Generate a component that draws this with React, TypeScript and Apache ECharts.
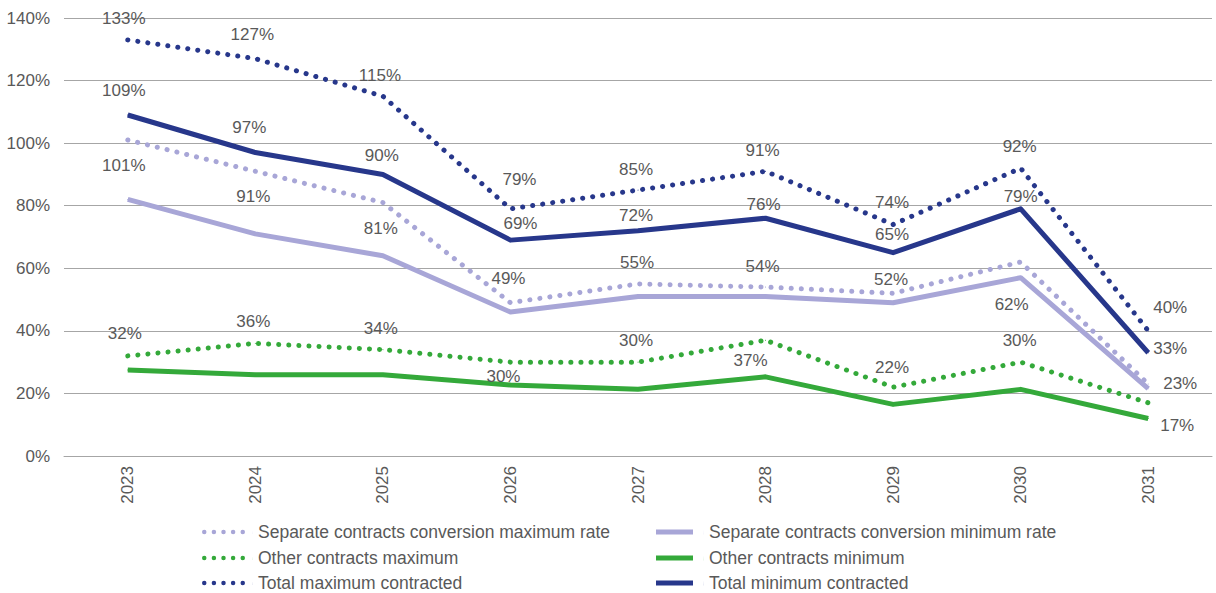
import React, { useEffect, useRef } from 'react';
import * as echarts from 'echarts';

const years = ['2023', '2024', '2025', '2026', '2027', '2028', '2029', '2030', '2031'];
const sepMax = [101, 91, 81, 49, 55, 54, 52, 62, 23];
const sepMin = [82, 71, 64, 46, 51, 51, 49, 57, 21.5];
const otherMax = [32, 36, 34, 30, 30, 37, 22, 30, 17];
const otherMin = [27.5, 26, 26, 22.7, 21.3, 25.3, 16.5, 21.3, 12];
const totalMax = [133, 127, 115, 79, 85, 91, 74, 92, 40];
const totalMin = [109, 97, 90, 69, 72, 76, 65, 79, 33];

const names = {
  sepMax: 'Separate contracts conversion maximum rate',
  sepMin: 'Separate contracts conversion minimum rate',
  otherMax: 'Other contracts maximum',
  otherMin: 'Other contracts minimum',
  totalMax: 'Total maximum contracted',
  totalMin: 'Total minimum contracted',
};

// label offsets (style): [dx, dy] relative to point
const totalMaxLabelOff = [[-4, -21], [-3, -24], [-3, -21], [9, -29], [-2, -21], [-3, -21], [-1, -22], [-1, -22], [22, -23]];
const totalMinLabelOff = [[-4, -24], [-6, -25], [-1, -19], [10, -17], [-2, -15], [-2, -14], [-1, -18], [0, -12], [22, -4]];
const sepMaxLabelOff = [[-4, 25], [-2, 25], [-2, 26], [-2, -24], [-1, -21], [-3, -21], [-2, -14], [-9, 42], [32, -1]];
const otherMaxLabelOff = [[-3, -22], [-2, -22], [-2, -21], [-7, 14], [-2, -22], [-15, 20], [-1, -20], [-1, -22], [29, 23]];

const DARK = '#27378b';
const LIGHT = '#a8a6d7';
const GREEN = '#34a93a';
const TEXT = '#595959';
const FONT = '"Liberation Sans", Arial, sans-serif';
const FS = 17;
const LFS = 17.5;

function dot(cx: number) {
  return `M${cx - 2.25},2.5 a2.25,2.25 0 1,0 4.5,0 a2.25,2.25 0 1,0 -4.5,0 `;
}
const dotsIcon =
  'path://M51,0.25 L51,4.75 L50.9,4.75 Z ' + [2.25, 11.9, 21.5, 31.1, 40.75].map(dot).join('');
const barIcon = 'path://M48,0 L48,5 L47.9,5 Z M0,0 L37,0 L37,5 L0,5 Z';

function withLabels(values: number[], offs?: number[][]) {
  return values.map((v, i) =>
    offs
      ? { value: v, label: { show: true, position: 'inside', offset: offs[i] } }
      : { value: v }
  );
}

function lineSeries(name: string, values: number[], color: string, dotted: boolean, offs?: number[][], z = 2) {
  return {
    type: 'line',
    name,
    data: withLabels(values, offs),
    symbol: 'circle',
    symbolSize: 1,
    showSymbol: true,
    z,
    itemStyle: { color },
    lineStyle: dotted
      ? { color, width: 5, type: [0.1, 10], cap: 'round' }
      : { color, width: 5, cap: 'butt', join: 'round' },
    label: {
      show: !!offs,
      color: TEXT,
      fontFamily: FONT,
      fontSize: FS,
      formatter: (p: any) => Math.round(p.value) + '%',
    },
    emphasis: { disabled: true },
  };
}

function legendItem(name: string, color: string, dotted: boolean, left: number, top: number) {
  return {
    orient: 'horizontal',
    left,
    top,
    padding: 0,
    itemHeight: 5,
    itemWidth: dotted ? 51 : 48,
    textStyle: { color: TEXT, fontFamily: FONT, fontSize: LFS, lineHeight: 17 },
    itemStyle: { borderWidth: 0 },
    selectedMode: false,
    data: [{ name, icon: dotted ? dotsIcon : barIcon, itemStyle: { color } }],
  };
}

export default function App() {
  const ref = useRef<HTMLDivElement>(null);
  useEffect(() => {
    if (!ref.current) return;
    const chart = echarts.init(ref.current, undefined, { renderer: 'svg' });
    const rowTops = [523, 549, 574];
    chart.setOption({
      animation: false,
      textStyle: { fontFamily: FONT },
      grid: { left: 64, right: 4, top: 18, bottom: 137, containLabel: false },
      legend: [
        legendItem(names.sepMax, LIGHT, true, 202, rowTops[0]),
        legendItem(names.otherMax, GREEN, true, 202, rowTops[1]),
        legendItem(names.totalMax, DARK, true, 202, rowTops[2]),
        legendItem(names.sepMin, LIGHT, false, 656, rowTops[0]),
        legendItem(names.otherMin, GREEN, false, 656, rowTops[1]),
        legendItem(names.totalMin, DARK, false, 656, rowTops[2]),
      ],
      xAxis: {
        type: 'category',
        data: years,
        boundaryGap: true,
        axisLine: { show: true, lineStyle: { color: '#a6a6a6', width: 1 } },
        axisTick: { show: false },
        axisLabel: { rotate: 90, margin: 10, color: TEXT, fontFamily: FONT, fontSize: FS },
      },
      yAxis: {
        type: 'value',
        min: 0,
        max: 140,
        interval: 20,
        axisLine: { show: false },
        axisTick: { show: false },
        splitLine: { lineStyle: { color: '#a6a6a6', width: 1 } },
        axisLabel: { formatter: '{value}%', margin: 14, color: TEXT, fontFamily: FONT, fontSize: FS },
      },
      series: [
        lineSeries(names.sepMax, sepMax, LIGHT, true, sepMaxLabelOff, 3),
        lineSeries(names.sepMin, sepMin, LIGHT, false, undefined, 2),
        lineSeries(names.otherMax, otherMax, GREEN, true, otherMaxLabelOff, 3),
        lineSeries(names.otherMin, otherMin, GREEN, false, undefined, 2),
        lineSeries(names.totalMax, totalMax, DARK, true, totalMaxLabelOff, 5),
        lineSeries(names.totalMin, totalMin, DARK, false, totalMinLabelOff, 4),
      ],
    });
    return () => chart.dispose();
  }, []);
  return (
    <div
      ref={ref}
      style={{ position: 'fixed', left: 0, top: 0, width: 1216, height: 593, background: '#fff' }}
    />
  );
}
